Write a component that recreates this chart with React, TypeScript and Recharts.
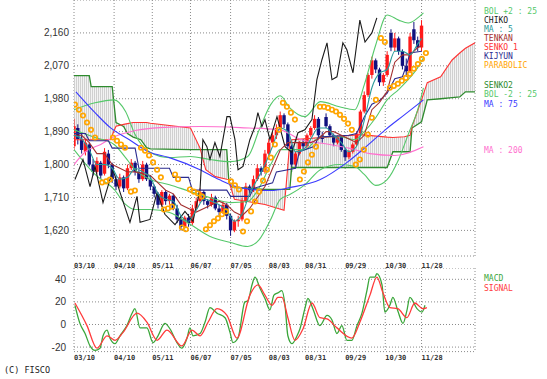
import React from 'react';
import { ComposedChart, Line, Bar, Area, Scatter, XAxis, YAxis, CartesianGrid } from 'recharts';

const tickDays = [0, 21, 41, 61, 82, 102, 121, 142, 163, 182];
const tickLabels = ['03/10', '04/10', '05/11', '06/07', '07/05', '08/03', '08/31', '09/29', '10/30', '11/28'];
const priceTicks = [1620, 1710, 1800, 1890, 1980, 2070, 2160];
const macdTicks = [-20, 0, 20, 40];

const candleDays = [0, 2, 4, 6, 8, 10, 12, 14, 16, 18, 20, 22, 24, 26, 28, 30, 32, 34, 36, 38, 40, 42, 44, 46, 48, 50, 52, 54, 56, 58, 60, 62, 64, 66, 68, 70, 72, 74, 76, 78, 80, 82, 84, 86, 88, 90, 92, 94, 96, 98, 100, 102, 104, 106, 108, 110, 112, 114, 116, 118, 120, 122, 124, 126, 128, 130, 132, 134, 136, 138, 140, 142, 144, 146, 148, 150, 152, 154, 156, 158, 160, 162, 164, 166, 168, 170, 172, 174, 176, 178, 180, 182];
const opens = [1850, 1900, 1870, 1835, 1855, 1800, 1780, 1805, 1775, 1830, 1800, 1760, 1740, 1765, 1735, 1790, 1805, 1780, 1760, 1800, 1760, 1740, 1720, 1690, 1725, 1700, 1715, 1680, 1650, 1630, 1655, 1640, 1680, 1700, 1725, 1700, 1690, 1710, 1680, 1670, 1690, 1660, 1620, 1645, 1650, 1700, 1740, 1730, 1760, 1790, 1780, 1830, 1860, 1880, 1900, 1935, 1910, 1850, 1800, 1830, 1860, 1850, 1880, 1900, 1925, 1880, 1930, 1905, 1880, 1860, 1875, 1840, 1820, 1835, 1855, 1885, 1945, 1990, 2045, 2085, 2060, 2025, 2045, 2160, 2120, 2145, 2110, 2070, 2055, 2170, 2140, 2120];
const highs = [1925, 1910, 1885, 1870, 1860, 1815, 1820, 1810, 1845, 1840, 1805, 1770, 1775, 1770, 1800, 1815, 1810, 1785, 1810, 1805, 1770, 1745, 1725, 1730, 1730, 1720, 1720, 1690, 1660, 1660, 1665, 1690, 1710, 1735, 1730, 1705, 1720, 1715, 1690, 1700, 1695, 1665, 1650, 1660, 1710, 1750, 1745, 1770, 1800, 1795, 1840, 1870, 1890, 1910, 1945, 1940, 1915, 1855, 1835, 1865, 1870, 1885, 1905, 1935, 1930, 1890, 1940, 1910, 1885, 1880, 1880, 1845, 1840, 1860, 1890, 1950, 2000, 2050, 2095, 2090, 2065, 2050, 2110, 2170, 2160, 2150, 2115, 2090, 2160, 2190, 2150, 2195];
const lows = [1840, 1855, 1830, 1825, 1795, 1770, 1775, 1760, 1770, 1790, 1750, 1730, 1735, 1725, 1730, 1785, 1770, 1750, 1755, 1755, 1730, 1710, 1680, 1685, 1690, 1690, 1675, 1640, 1620, 1625, 1630, 1635, 1675, 1695, 1690, 1680, 1685, 1675, 1660, 1665, 1650, 1605, 1615, 1630, 1645, 1695, 1720, 1725, 1755, 1770, 1775, 1820, 1850, 1870, 1895, 1900, 1845, 1780, 1795, 1825, 1840, 1845, 1875, 1895, 1875, 1860, 1900, 1875, 1850, 1855, 1835, 1810, 1815, 1830, 1850, 1880, 1940, 1985, 2035, 2050, 2015, 2015, 2040, 2110, 2110, 2100, 2060, 2040, 2050, 2130, 2110, 2110];
const closes = [1905, 1870, 1840, 1860, 1800, 1780, 1810, 1770, 1835, 1800, 1760, 1740, 1765, 1735, 1790, 1805, 1780, 1760, 1800, 1760, 1740, 1720, 1690, 1725, 1700, 1715, 1680, 1650, 1630, 1655, 1640, 1680, 1700, 1725, 1700, 1690, 1710, 1680, 1670, 1690, 1660, 1620, 1645, 1650, 1700, 1740, 1730, 1760, 1790, 1780, 1830, 1860, 1880, 1900, 1935, 1910, 1850, 1800, 1830, 1860, 1850, 1880, 1900, 1925, 1880, 1870, 1905, 1880, 1860, 1875, 1840, 1820, 1835, 1855, 1885, 1945, 1990, 2045, 2085, 2060, 2025, 2045, 2100, 2120, 2145, 2110, 2070, 2055, 2150, 2140, 2120, 2180];

const lineDays = [0, 4, 8, 12, 16, 20, 24, 28, 32, 36, 40, 44, 48, 52, 56, 60, 64, 68, 72, 76, 80, 84, 88, 92, 96, 100, 104, 108, 112, 116, 120, 124, 128, 132, 136, 140, 144, 148, 152, 156, 160, 164, 168, 172, 176, 180, 182];
const ma5Values = [1880, 1870, 1840, 1800, 1800, 1790, 1760, 1765, 1790, 1780, 1765, 1720, 1705, 1700, 1660, 1645, 1675, 1705, 1700, 1690, 1675, 1645, 1665, 1720, 1760, 1800, 1850, 1900, 1890, 1835, 1840, 1870, 1900, 1900, 1880, 1860, 1835, 1850, 1920, 2010, 2050, 2060, 2110, 2110, 2100, 2130, 2145];
const tenkanValues = [1880, 1880, 1860, 1830, 1830, 1800, 1790, 1780, 1780, 1775, 1770, 1750, 1730, 1720, 1690, 1680, 1670, 1680, 1690, 1700, 1690, 1670, 1660, 1680, 1710, 1740, 1790, 1840, 1860, 1860, 1860, 1860, 1870, 1890, 1890, 1880, 1870, 1860, 1880, 1950, 1970, 2000, 2080, 2100, 2100, 2120, 2125];

const kijunDays = [0, 6, 8, 18, 20, 32, 34, 50, 52, 60, 62, 80, 82, 92, 94, 104, 106, 116, 118, 126, 128, 144, 148, 152, 156, 160, 164, 168, 172, 174, 176, 182];
const kijunValues = [1885, 1885, 1865, 1865, 1845, 1845, 1790, 1790, 1765, 1765, 1730, 1730, 1713, 1713, 1735, 1750, 1780, 1790, 1835, 1850, 1875, 1880, 1885, 1930, 1965, 1975, 1995, 2035, 2040, 2070, 2105, 2110];

const cloudDays = [0, 8, 9, 19, 20, 22, 26, 28, 31, 35, 38, 40, 61, 66, 69, 74, 80, 81, 82, 84, 100, 110, 113, 114, 150, 164, 167, 173, 176, 177, 182, 185, 192, 198, 202, 205, 210];
const senko1Values = [1868, 1868, 1868, 1868, 1880, 1905, 1910, 1912, 1915, 1915, 1915, 1913, 1900, 1845, 1786, 1767, 1760, 1759, 1740, 1705, 1691, 1675, 1860, 1868, 1882, 1875, 1874, 1876, 1880, 1904, 1977, 2024, 2040, 2086, 2105, 2118, 2133];
const senko2Values = [2043, 2043, 2013, 2013, 2013, 1915, 1904, 1885, 1875, 1868, 1846, 1843, 1841, 1841, 1841, 1841, 1841, 1760, 1740, 1738, 1732, 1732, 1732, 1792, 1792, 1792, 1835, 1835, 1835, 1900, 1917, 1977, 1980, 1983, 1985, 1999, 1999];

const bollDays = [0, 11, 21, 27, 32, 40, 50, 61, 71, 82, 91, 97, 103, 108, 113, 121, 129, 139, 147, 152, 158, 164, 170, 175, 180, 183];
const bolUpper = [1950, 1969, 1977, 1945, 1882, 1833, 1819, 1822, 1814, 1808, 1822, 1895, 1964, 1988, 1955, 1931, 1972, 1958, 1950, 2018, 2127, 2209, 2195, 2187, 2201, 2215];
const bolMiddle = [1895, 1874, 1855, 1819, 1786, 1759, 1745, 1726, 1710, 1696, 1699, 1737, 1800, 1841, 1841, 1841, 1876, 1876, 1868, 1890, 1928, 1977, 2005, 2032, 2065, 2092];
const bolLower = [1841, 1773, 1732, 1691, 1677, 1677, 1669, 1636, 1604, 1587, 1576, 1595, 1650, 1705, 1718, 1745, 1786, 1800, 1795, 1773, 1743, 1759, 1814, 1882, 1950, 2010];

const ma75Days = [1, 11, 19, 29, 39, 50, 66, 76, 87, 103, 113, 129, 143, 153, 163, 173, 183];
const ma75Values = [1999, 1942, 1901, 1868, 1835, 1819, 1786, 1759, 1737, 1729, 1737, 1759, 1806, 1849, 1895, 1936, 1977];

const ma200Days = [0, 6, 14, 21, 32, 45, 66, 87, 108, 118, 134, 144, 155, 168, 183];
const ma200Values = [1800, 1835, 1855, 1876, 1893, 1901, 1904, 1901, 1895, 1870, 1855, 1845, 1830, 1825, 1849];

const chikoDays = [0.5, 4.7, 8.4, 11, 15.2, 20.4, 24.1, 29.3, 33, 34.6, 39.8, 43.5, 47.6, 52.9, 58.1, 62.3, 66, 67.5, 69.6, 71.2, 73.8, 76.4, 80.1, 81.7, 84.3, 85.9, 88.5, 92.1, 94.8, 96.3, 98.4, 100, 102.6, 106.3, 110.5, 114.1, 117.3, 120.9, 124.6, 127.2, 129.8, 132.5, 135.1, 137.7, 140.8, 142.9, 146.1, 149.7, 152.4, 156, 158.6];
const chikoValues = [1759, 1814, 1740, 1795, 1696, 1786, 1724, 1642, 1713, 1642, 1650, 1724, 1664, 1636, 1672, 1645, 1732, 1868, 1849, 1814, 1860, 1822, 1931, 1931, 1868, 1786, 1795, 1868, 1904, 1942, 1904, 1923, 1868, 1931, 1849, 1833, 1887, 1895, 1923, 2032, 2086, 2133, 2032, 2040, 2133, 2114, 2051, 2195, 2135, 2160, 2201];

const sarDays = [0.5, 2.6, 4.7, 6.8, 8.9, 11.0, 14.7, 16.8, 18.8, 20.4, 22.5, 24.6, 26.7, 29.8, 31.9, 35.1, 37.2, 39.3, 41.4, 43.5, 45.5, 47.1, 49.2, 51.3, 52.9, 54.5, 56.5, 58.6, 60.7, 62.8, 64.9, 67, 69.1, 71.2, 73.3, 75.4, 77.5, 79.6, 82.2, 84.3, 86.4, 88.5, 90.6, 92.7, 94.8, 96.9, 99.0, 101.0, 103.1, 105.2, 107.3, 109.4, 111.5, 113.6, 115.7, 118.3, 120.4, 122.5, 124.6, 126.7, 128.8, 130.9, 133.0, 135.1, 137.2, 139.3, 141.4, 143.5, 145.5, 147.6, 149.7, 151.8, 153.9, 156.0, 158.1, 160.7, 162.8, 165.4, 167.5, 169.6, 171.7, 173.8, 175.9, 178.0, 180.1, 182.2, 184.3];
const sarValues = [1964, 1950, 1934, 1915, 1895, 1874, 1751, 1754, 1759, 1874, 1865, 1855, 1846, 1726, 1729, 1846, 1838, 1825, 1806, 1786, 1765, 1677, 1680, 1685, 1773, 1760, 1628, 1623, 1732, 1726, 1721, 1713, 1623, 1634, 1645, 1653, 1664, 1672, 1754, 1743, 1732, 1617, 1645, 1672, 1699, 1726, 1756, 1786, 1819, 1855, 1895, 1969, 1958, 1942, 1923, 1759, 1781, 1806, 1827, 1849, 1958, 1958, 1955, 1950, 1945, 1936, 1925, 1912, 1895, 1800, 1814, 1841, 1882, 1928, 1977, 2146, 2135, 2010, 2015, 2021, 2029, 2037, 2048, 2062, 2075, 2089, 2105];

const macdDays = [0.5, 3.1, 5.8, 8.4, 11, 13.6, 15.2, 17.3, 18.8, 21.5, 24.1, 27.7, 30.4, 31.9, 34.6, 38.2, 41.4, 44, 47.6, 50.3, 53.9, 56.5, 59.2, 60.7, 62.3, 66, 68.6, 71.2, 74.9, 79.1, 81.7, 83.2, 85.9, 89.5, 91.1, 93.2, 94.8, 97.4, 100, 102.6, 104.7, 106.8, 108.9, 110.5, 112, 114.1, 116.8, 118.3, 120.9, 122.5, 125.1, 128.8, 132.5, 135.1, 137.7, 140.3, 142.9, 145.5, 148.2, 150.8, 153.4, 155, 157.6, 158.6, 161.3, 162.8, 165.4, 167, 169.6, 172.3, 174.3, 175.9, 179.6, 182.2, 183.8];
const macdValues = [17, 1, -8, -19, -23, -21, -10, -5, -12, -17, -10, -1, 10, 14, -3, -3, -16, -10, 1, -4, -16, -21, -12, -3, -10, -8, 2, 15, 10, 6, -7, -16, -12, 20, 21, 35, 42, 32, 23, 13, 26, 28, 30, 17, -10, -17, -10, -4, 14, 23, 14, -1, 8, 4, -8, -1, -14, -14, -1, 10, 30, 42, 42, 45, 35, 11, 17, 24, 12, 1, 12, 24, 14, 11, 17];
const signalDays = [0.5, 6.8, 12, 17.3, 21.5, 25.7, 33, 38.2, 43.5, 48.7, 56.5, 61.8, 66, 70.2, 74.9, 80.1, 85.3, 92.1, 96.3, 100, 103.7, 106.8, 108.9, 112, 115.7, 119.9, 124.6, 128.8, 132.5, 137.7, 145.5, 149.7, 155, 158.6, 161.8, 165.4, 169.6, 174.3, 178.5, 182.7, 184.8];
const signalValues = [19, -1, -21, -10, -14, -7, 10, 2, -14, -5, -19, -5, -10, 2, 14, 8, -12, 26, 35, 26, 17, 24, 24, 6, -14, -4, 19, 6, 5, -3, -12, 2, 26, 42, 28, 15, 14, 6, 19, 14, 15];

const pts = (days: number[], vals: number[]) => days.map((x, i) => ({ x, v: vals[i] }));

const candleData = candleDays.map((x, i) => ({ x, o: opens[i], h: highs[i], l: lows[i], c: closes[i] }));
const cloudData = cloudDays.map((x, i) => ({ x, s1: senko1Values[i], s2: senko2Values[i] }));

const C = {
  up: '#ff1a1a', down: '#10107e', ma5: '#2a9a9a', tenkan: '#a33030', kijun: '#2b2b8f',
  senko1: '#ff3333', senko2: '#2e8b2e', bol: '#55c86a', chiko: '#1a1a1a', ma75: '#3a3aff',
  ma200: '#ff70cf', sar: '#ffa500', macd: '#3aa63a', signal: '#ff3b3b',
};

const MONO = 'DejaVu Sans Mono, monospace';
const XDOMAIN: [number, number] = [0, 210];

const Candle = (props: any) => {
  const { x, y, width, height, payload } = props;
  if (!payload || height == null) return null;
  const { o, h, l, c } = payload;
  const color = c >= o ? C.up : C.down;
  const hgt = Math.abs(height);
  const top = height < 0 ? y + height : y;
  const k = hgt / Math.max(1, h - l);
  const bTop = top + (h - Math.max(o, c)) * k;
  const bBot = top + (h - Math.min(o, c)) * k;
  const cx = x + width / 2;
  return (
    <g>
      <line x1={cx} x2={cx} y1={top} y2={top + hgt} stroke={color} strokeWidth={1} />
      <rect x={cx - 1.7} y={bTop} width={3.4} height={Math.max(1, bBot - bTop)} fill={color} />
    </g>
  );
};

const makeXTick = (baseline: number) => (p: any) => {
  const idx = tickDays.indexOf(p.payload.value);
  return (
    <text x={p.x} y={baseline} fontFamily={MONO} fontSize={7} fontWeight="bold" fill="#333" textAnchor="start">
      {tickLabels[idx]}
    </text>
  );
};

const makeYTick = (right: number) => (p: any) => (
  <text x={right} y={p.y} dy={3.5} fontFamily="Liberation Sans, Arial, sans-serif" fontSize={10} fill="#333" textAnchor="end">
    {Number(p.payload.value).toLocaleString('en-US')}
  </text>
);

const SarDot = (p: any) => <circle cx={p.cx} cy={p.cy} r={2.2} fill="none" stroke={C.sar} strokeWidth={1.7} />;

const legend = [
  { t: 'BOL +2 : 25', c: C.bol, y: 14 },
  { t: 'CHIKO', c: C.chiko, y: 23 },
  { t: 'MA : 5', c: C.ma5, y: 32 },
  { t: 'TENKAN', c: C.tenkan, y: 41 },
  { t: 'SENKO 1', c: C.senko1, y: 50 },
  { t: 'KIJYUN', c: C.kijun, y: 59 },
  { t: 'PARABOLIC', c: C.sar, y: 68 },
  { t: 'SENKO2', c: C.senko2, y: 88 },
  { t: 'BOL -2 : 25', c: C.bol, y: 97 },
  { t: 'MA : 75', c: C.ma75, y: 107 },
  { t: 'MA : 200', c: C.ma200, y: 153 },
  { t: 'MACD', c: C.macd, y: 281 },
  { t: 'SIGNAL', c: C.signal, y: 291 },
];

export default function App() {
  return (
    <div style={{ position: 'absolute', left: 0, top: 0, width: 547, height: 379, background: '#fff', overflow: 'hidden' }}>
      <div style={{ position: 'absolute', left: 0, top: 0 }}>
        <ComposedChart width={547} height={270} data={candleData} margin={{ top: 0, right: 72, bottom: 0, left: 0 }}>
          <defs>
            <pattern id="cloudPat" width="2" height="2" patternUnits="userSpaceOnUse">
              <rect width="2" height="2" fill="#f3f3f3" />
              <rect width="1" height="2" fill="#d0d0d0" />
            </pattern>
          </defs>
          <CartesianGrid stroke="#8a8a8a" strokeDasharray="1 2" />
          <XAxis dataKey="x" type="number" domain={XDOMAIN} ticks={tickDays} interval={0} allowDataOverflow axisLine={false} tickLine={false} height={14} tick={makeXTick(268)} />
          <YAxis type="number" domain={[1550, 2250]} ticks={priceTicks} interval={0} allowDataOverflow axisLine={false} tickLine={false} width={74} tick={makeYTick(69)} />
          <Area data={cloudData} dataKey={(d: any) => [d.s2, d.s1]} type="linear" stroke="none" fill="url(#cloudPat)" fillOpacity={1} isAnimationActive={false} />
          <Line data={pts(cloudDays, senko2Values)} dataKey="v" type="linear" stroke={C.senko2} strokeWidth={1.3} dot={false} isAnimationActive={false} />
          <Line data={pts(cloudDays, senko1Values)} dataKey="v" type="linear" stroke={C.senko1} strokeWidth={1.1} dot={false} isAnimationActive={false} />
          <Line data={pts(bollDays, bolUpper)} dataKey="v" type="monotone" stroke={C.bol} strokeWidth={1.1} dot={false} isAnimationActive={false} />
          <Line data={pts(bollDays, bolMiddle)} dataKey="v" type="monotone" stroke={C.bol} strokeWidth={1.1} dot={false} isAnimationActive={false} />
          <Line data={pts(bollDays, bolLower)} dataKey="v" type="monotone" stroke={C.bol} strokeWidth={1.1} dot={false} isAnimationActive={false} />
          <Line data={pts(ma200Days, ma200Values)} dataKey="v" type="monotone" stroke={C.ma200} strokeWidth={1.1} dot={false} isAnimationActive={false} />
          <Line data={pts(ma75Days, ma75Values)} dataKey="v" type="monotone" stroke={C.ma75} strokeWidth={1.1} dot={false} isAnimationActive={false} />
          <Line data={pts(chikoDays, chikoValues)} dataKey="v" type="linear" stroke={C.chiko} strokeWidth={1.1} dot={false} isAnimationActive={false} />
          <Bar dataKey={(d: any) => [d.l, d.h]} barSize={3} shape={(p: any) => <Candle {...p} />} isAnimationActive={false} />
          <Line data={pts(kijunDays, kijunValues)} dataKey="v" type="linear" stroke={C.kijun} strokeWidth={1.1} dot={false} isAnimationActive={false} />
          <Line data={pts(lineDays, tenkanValues)} dataKey="v" type="linear" stroke={C.tenkan} strokeWidth={1.1} dot={false} isAnimationActive={false} />
          <Line data={pts(lineDays, ma5Values)} dataKey="v" type="monotone" stroke={C.ma5} strokeWidth={1.1} dot={false} isAnimationActive={false} />
          <Scatter data={pts(sarDays, sarValues)} dataKey="v" shape={SarDot} isAnimationActive={false} />
        </ComposedChart>
      </div>
      <div style={{ position: 'absolute', left: 0, top: 268 }}>
        <ComposedChart width={547} height={98} margin={{ top: 0, right: 72, bottom: 0, left: 0 }}>
          <CartesianGrid stroke="#8a8a8a" strokeDasharray="1 2" />
          <XAxis dataKey="x" type="number" domain={XDOMAIN} ticks={tickDays} interval={0} allowDataOverflow axisLine={false} tickLine={false} height={14.4} tick={makeXTick(91.5)} />
          <YAxis type="number" domain={[-24, 50]} ticks={macdTicks} interval={0} allowDataOverflow axisLine={false} tickLine={false} width={74} tick={makeYTick(66)} />
          <Line data={pts(macdDays, macdValues)} dataKey="v" type="monotone" stroke={C.macd} strokeWidth={1.3} dot={false} isAnimationActive={false} />
          <Line data={pts(signalDays, signalValues)} dataKey="v" type="monotone" stroke={C.signal} strokeWidth={1.3} dot={false} isAnimationActive={false} />
        </ComposedChart>
      </div>
      <svg width={547} height={379} style={{ position: 'absolute', left: 0, top: 0, pointerEvents: 'none' }}>
        {legend.map((l, i) => (
          <text key={i} x={484} y={l.y} fontFamily={MONO} fontSize={8} fill={l.c}>{l.t}</text>
        ))}
        <text x={4} y={373} fontFamily={MONO} fontSize={8.5} fill="#222">(C) FISCO</text>
      </svg>
    </div>
  );
}
